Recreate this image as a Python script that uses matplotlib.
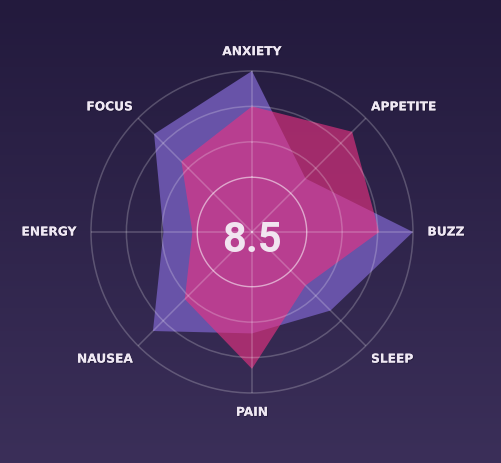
import numpy as np
import matplotlib
matplotlib.use("Agg")
import matplotlib.pyplot as plt
from matplotlib.colors import LinearSegmentedColormap
from matplotlib.transforms import offset_copy
import matplotlib.patheffects as pe

# ---- data ----
categories = ["ANXIETY", "APPETITE", "BUZZ", "SLEEP", "PAIN", "NAUSEA", "ENERGY", "FOCUS"]
strain_a = [10.0, 4.7, 10.0, 6.9, 6.3, 8.7, 5.5, 8.6]   # violet shape
strain_b = [7.8, 8.8, 7.9, 4.7, 8.5, 5.9, 3.7, 6.2]     # magenta shape
score = "8.5"
rings = [5.6, 7.8]
score_ring = 3.4

BG_TOP = "#231a3d"
BG_BOT = "#3b2f59"
VIOLET = "#6853a8"
MAGENTA = "#eb3282"
LABEL = "#efe8f3"

fig = plt.figure(figsize=(5.01, 4.63), dpi=100)

# background gradient
bg = fig.add_axes([0, 0, 1, 1])
grad = np.linspace(1, 0, 256).reshape(-1, 1)
cmap = LinearSegmentedColormap.from_list("bg", [BG_BOT, BG_TOP])
bg.imshow(grad, aspect="auto", cmap=cmap, extent=[0, 1, 0, 1])
bg.axis("off")

# radar: center at (252, 232) px, radius 161 px
ax = fig.add_axes([0.1816, 0.1512, 0.6427, 0.6955], projection="polar")
ax.patch.set_alpha(0)
ax.set_theta_offset(np.pi / 2)
ax.set_theta_direction(-1)

n = len(categories)
angles = np.arange(n) * 2 * np.pi / n
closed = np.append(angles, angles[0])

ax.fill(closed, np.append(strain_a, strain_a[0]), color=VIOLET, lw=0, zorder=1)
ax.fill(closed, np.append(strain_b, strain_b[0]), color=MAGENTA, alpha=0.62, lw=0, zorder=1.1)

ax.set_ylim(0, 10)
ax.set_yticks(rings)
ax.set_yticklabels([])
ax.set_xticks(angles)
ax.set_xticklabels([])
ax.tick_params(length=0)
ax.set_axisbelow(False)
ax.grid(True, color="white", alpha=0.22, lw=1.1)
ax.spines["polar"].set_color((1, 1, 1, 0.22))
ax.spines["polar"].set_linewidth(1.1)

t = np.linspace(0, 2 * np.pi, 300)
ax.plot(t, np.full_like(t, score_ring), color="white", alpha=0.55, lw=1.0, zorder=3)

fig.text(252 / 501, (463 - 251.5) / 463, score, ha="center", va="baseline",
         color="#f1e4f0", fontsize=30, family=["Roboto", "DejaVu Sans"],
         fontweight="bold", zorder=4)

# category labels
shadow = [pe.withSimplePatchShadow(offset=(0.6, -0.6), shadow_rgbFace="#120c22", alpha=0.6),
          pe.Normal()]
for ang, name in zip(angles, categories):
    s, c = np.sin(ang), np.cos(ang)
    if abs(s) < 0.1:
        ha, r, dx = "center", 11.2, 0
    else:
        ha, r = ("left" if s > 0 else "right"), 10.9
        dx = 0 if abs(c) < 0.1 else (-5 if s > 0 else 5)
    dy = 0 if abs(s) < 0.1 or abs(c) < 0.1 else (1 if c > 0 else -3)
    tr = offset_copy(ax.transData, fig=fig, x=dx, y=dy, units="dots")
    ax.text(ang, r, name, ha=ha, va="center", color=LABEL, fontsize=8.8,
            fontweight="bold", family="DejaVu Sans", path_effects=shadow,
            clip_on=False, zorder=5, transform=tr)

fig.savefig("out.png", dpi=100)
